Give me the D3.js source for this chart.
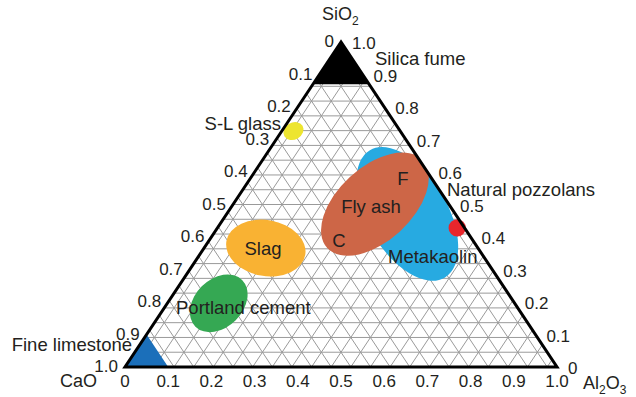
<!DOCTYPE html>
<html>
<head>
<meta charset="utf-8">
<script src="https://cdn.jsdelivr.net/npm/d3@7"></script>
<style>
  html, body { margin: 0; padding: 0; background: #fff; }
  svg { display: block; font-family: "Liberation Sans", Arial, sans-serif; }
</style>
</head>
<body>
<svg id="chart" width="636" height="397"></svg>
<script>
// Ternary diagram of supplementary cementitious materials: SiO2 (top), CaO (left), Al2O3 (right)

const tickValues = [0, 0.1, 0.2, 0.3, 0.4, 0.5, 0.6, 0.7, 0.8, 0.9, 1.0];
const tickLabels = ["0", "0.1", "0.2", "0.3", "0.4", "0.5", "0.6", "0.7", "0.8", "0.9", "1.0"];

// Material regions: centre composition (SiO2, Al2O3 mass fractions) and half-extents in composition units
const regionNames  = ["Metakaolin", "Fly ash", "Slag", "Portland cement", "S-L glass", "Natural pozzolans"];
const regionSiO2   = [0.471, 0.501, 0.366, 0.196, 0.726, 0.428];
const regionAl2O3  = [0.418, 0.328, 0.143, 0.119, 0.027, 0.555];
const regionSpanA  = [0.171, 0.150, 0.0926, 0.0764, 0.0243, 0.0200];  // major half-extent
const regionSpanB  = [0.0926, 0.0856, 0.0648, 0.0556, 0.0197, 0.0200]; // minor half-extent

// Corner regions: minimum fraction of the pure oxide
const silicaFumeMinSiO2 = 0.87;
const limestoneMinCaO = 0.90;

// Grid divisions
const gridRows = 22;

const svg = d3.select("#chart");

// Layout of the triangle
const x0 = 125, x1 = 557, yTop = 42, yBot = 367;
const W = x1 - x0;

// Scales: height from SiO2 fraction, horizontal position from the combined coordinate
const yScale = d3.scaleLinear().domain([0, 1]).range([yBot, yTop]);
const xScale = d3.scaleLinear().domain([0, 1]).range([x0, x1]);

// (SiO2, Al2O3) -> pixel
function pt(si, al) {
  return [xScale(al + si / 2), yScale(si)];
}

const colors = {
  grid: "#9a9a9a",
  text: "#231f20",
  silica: "#000",
  limestone: "#1b6fba",
  "Metakaolin": "#27aae1",
  "Fly ash": "#cd6647",
  "Slag": "#f9b233",
  "Portland cement": "#35a853",
  "S-L glass": "#ede530",
  "Natural pozzolans": "#e8262c"
};

// Orientation of each region's major axis (degrees, screen space)
const angles = { "Metakaolin": 59.6, "Fly ash": -42.6, "Slag": 10, "Portland cement": -45, "S-L glass": -30, "Natural pozzolans": 0 };

const line = d3.line();

// --- grid ---
const grid = svg.append("g").attr("stroke", colors.grid).attr("stroke-width", 1).attr("fill", "none");
for (let i = 1; i < gridRows; i++) {
  const f = i / gridRows;
  grid.append("path").attr("d", line([pt(f, 0), pt(f, 1 - f)]));   // constant SiO2
}
// the two sloping families are offset half a division so they cross between rows
for (let i = 1; i <= gridRows; i++) {
  const f = (i - 0.5) / gridRows;
  grid.append("path").attr("d", line([pt(0, f), pt(1 - f, f)]));          // constant Al2O3
  grid.append("path").attr("d", line([pt(0, 1 - f), pt(1 - f, 0)]));      // constant CaO
}

// clip path for the triangle interior
const triPath = line([pt(1, 0), pt(0, 0), pt(0, 1)]) + "Z";
svg.append("clipPath").attr("id", "tri").append("path").attr("d", triPath);

const regions = svg.append("g").attr("clip-path", "url(#tri)");

// corner regions
regions.append("path")
  .attr("fill", colors.silica)
  .attr("d", line([pt(1, 0), pt(silicaFumeMinSiO2, 0), pt(silicaFumeMinSiO2, 1 - silicaFumeMinSiO2)]) + "Z");
regions.append("path")
  .attr("fill", colors.limestone)
  .attr("d", line([pt(0, 0), pt(0, 1 - limestoneMinCaO), pt(1 - limestoneMinCaO, 0)]) + "Z");

// ellipse regions
regionNames.forEach((name, i) => {
  const [cx, cy] = pt(regionSiO2[i], regionAl2O3[i]);
  const g = (name === "Natural pozzolans") ? svg : regions;
  g.append("ellipse")
    .attr("cx", cx).attr("cy", cy)
    .attr("rx", regionSpanA[i] * W).attr("ry", regionSpanB[i] * W)
    .attr("transform", `rotate(${angles[name]},${cx},${cy})`)
    .attr("fill", colors[name]);
});

// triangle outline
svg.append("path")
  .attr("d", triPath)
  .attr("fill", "none").attr("stroke", "#000").attr("stroke-width", 3)
  .attr("stroke-linejoin", "miter");

// --- tick labels ---
const ticks = svg.append("g").attr("font-size", 17).attr("fill", colors.text);
// bottom: Al2O3
tickValues.forEach((v, i) => {
  const [x, y] = pt(0, v);
  ticks.append("text").attr("x", x).attr("y", y + 20).attr("text-anchor", "middle").text(tickLabels[i]);
});
// left: CaO, 0 at the apex
tickValues.forEach((v, i) => {
  const [x, y] = pt(1 - v, 0);
  ticks.append("text").attr("x", x - 7).attr("y", y + 5).attr("text-anchor", "end").text(tickLabels[i]);
});
// right: SiO2, 0 at the base
tickValues.forEach((v, i) => {
  const [x, y] = pt(v, 1 - v);
  ticks.append("text").attr("x", x + 11).attr("y", y + 7).attr("text-anchor", "start").text(tickLabels[i]);
});

// --- axis titles ---
const titles = svg.append("g").attr("font-size", 18).attr("fill", colors.text);
const si = titles.append("text").attr("x", 322).attr("y", 20);
si.append("tspan").text("SiO");
si.append("tspan").attr("font-size", 12).attr("dy", 5).text("2");
titles.append("text").attr("x", 60).attr("y", 387).text("CaO");
const al = titles.append("text").attr("x", 583).attr("y", 389);
al.append("tspan").text("Al");
al.append("tspan").attr("font-size", 12).attr("dy", 5).text("2");
al.append("tspan").attr("dy", -5).text("O");
al.append("tspan").attr("font-size", 12).attr("dy", 5).text("3");

// --- material labels ---
const labels = svg.append("g").attr("font-size", 18.5).attr("fill", colors.text);
labels.append("text").attr("x", 375).attr("y", 65).text("Silica fume");
labels.append("text").attr("x", 132).attr("y", 351).attr("text-anchor", "end").text("Fine limestone");
labels.append("text").attr("x", 281).attr("y", 130).attr("text-anchor", "end").text("S-L glass");
labels.append("text").attr("x", 263).attr("y", 255).attr("text-anchor", "middle").text("Slag");
labels.append("text").attr("x", 176).attr("y", 314).text("Portland cement");
labels.append("text").attr("x", 371).attr("y", 213).attr("text-anchor", "middle").text("Fly ash");
labels.append("text").attr("x", 403).attr("y", 185).attr("text-anchor", "middle").text("F");
labels.append("text").attr("x", 339).attr("y", 247).attr("text-anchor", "middle").text("C");
labels.append("text").attr("x", 388).attr("y", 263).text("Metakaolin");
labels.append("text").attr("x", 447).attr("y", 196).text("Natural pozzolans");
</script>
</body>
</html>
